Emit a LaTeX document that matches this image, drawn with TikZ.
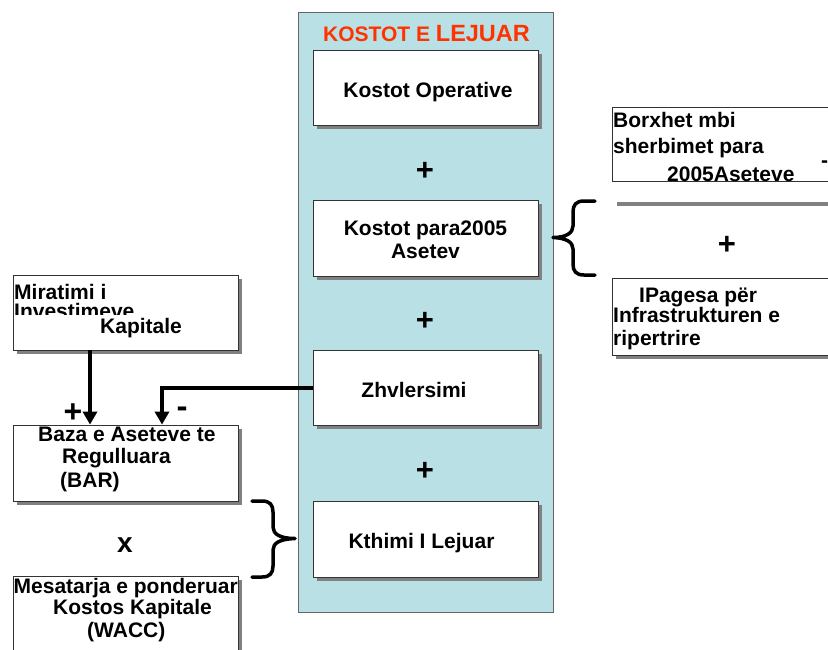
\documentclass[tikz,border=0pt]{standalone}
\usepackage{fontspec}
\setmainfont{Liberation Sans}
\usetikzlibrary{arrows.meta,shadows}
\definecolor{panelfill}{RGB}{185,224,228}
\definecolor{titlered}{RGB}{255,51,0}
\definecolor{shade}{RGB}{128,128,128}
\begin{document}
\begin{tikzpicture}[x=1pt,y=-1pt,
  box/.style={draw=black!80, line width=0.8pt, fill=white, inner sep=0pt},
  sbox/.style={box, drop shadow={shadow xshift=4pt, shadow yshift=-4pt, fill=shade, opacity=1}},
  tl/.style={inner sep=0pt, anchor=base west, font=\bfseries\fontsize{21}{24}\selectfont},
  tc/.style={tl, anchor=base},
  sym/.style={inner sep=0pt, anchor=base, font=\bfseries\fontsize{31}{34}\selectfont},
  arr/.style={line width=4pt, -{Triangle[width=14pt,length=13pt]}},
  bracestyle/.style={line width=3.5pt, line cap=round, line join=round}]
\useasboundingbox (0,0) rectangle (828,649);

% central panel
\node[draw=black!60, line width=0.8pt, fill=panelfill, minimum width=255, minimum height=600, inner sep=0pt] (panel) at (425.5,312) {};
\node[inner sep=0pt, anchor=base, text=titlered, font=\bfseries] (title) at (426.5,41)
  {\fontsize{21}{24}\selectfont KOSTOT E \fontsize{23.5}{26}\selectfont LEJUAR};

% boxes in panel
\node[sbox, minimum width=225, minimum height=75] (op) at (425.5,87.5) {};
\node[sbox, minimum width=225, minimum height=76] (para) at (425.5,238) {};
\node[sbox, minimum width=225, minimum height=75] (zhv) at (425.5,387.5) {};
\node[sbox, minimum width=225, minimum height=76] (kth) at (425.5,539) {};

\node[tc] (opT) at (428,97) {Kostot Operative};
\node[tc] (paraT1) at (425.5,235) {Kostot para2005};
\node[tc] (paraT2) at (425.5,258) {Asetev};
\node[tc] (zhvT) at (414,397) {Zhvlersimi};
\node[tc] (kthT) at (421.5,548) {Kthimi I Lejuar};

\node[sym] (p1) at (425,180.5) {+};
\node[sym] (p2) at (425,330.5) {+};
\node[sym] (p3) at (425,480.5) {+};

% left boxes
\node[sbox, minimum width=225, minimum height=75] (mir) at (125.5,312.5) {};
\node[sbox, minimum width=225, minimum height=76] (baza) at (125.5,463) {};
\node[sbox, minimum width=225, minimum height=104] (mes) at (125.5,628) {};

\node[tl] (mirT1) at (14,299) {Miratimi i};
\begin{scope}
  \clip (13,275) rectangle (238,314.5);
  \node[tl] (mirT2) at (14,318) {Investimeve};
\end{scope}
\node[tl] (mirT3) at (100,333) {Kapitale};

\node[tl] (bazaT1) at (38,441) {Baza e Aseteve te};
\node[tl] (bazaT2) at (62,463) {Regulluara};
\node[tl] (bazaT3) at (60,487) {(BAR)};

\node[tl] (mesT1) at (13.5,593) {Mesatarja e ponderuar};
\node[tl] (mesT2) at (53,614) {Kostos Kapitale};
\node[tl] (mesT3) at (87,637) {(WACC)};

\node[inner sep=0pt, anchor=base, font=\bfseries\fontsize{28}{30}\selectfont] (times) at (125,552) {x};

% arrows
\coordinate (c1) at (90,0);
\coordinate (c2) at (162,0);
\draw[arr] (mir.south -| c1) -- (baza.north -| c1);
\draw[arr] (zhv.west) -| (baza.north -| c2);
\node[inner sep=0pt, anchor=base, font=\bfseries\fontsize{32}{34}\selectfont] (plusA) at (73,422) {+};
\node[inner sep=0pt, anchor=base, font=\bfseries\fontsize{33}{35}\selectfont] (minusA) at (182,417) {-};

% right boxes
\node[box, minimum width=228, minimum height=74] (borx) at (726,144) {};
\node[tl] (borxT1) at (613,127) {Borxhet mbi};
\node[tl] (borxT2) at (613,153) {sherbimet para};
\node[tl] (borxT3) at (667,181) {2005Aseteve};
\node[tl] (borxM) at (821,167) {-};
\draw[draw=shade, line width=4pt] (617,203.5) -- (830,203.5);
\node[sym] (p4) at (727,254) {+};
\node[sbox, minimum width=228, minimum height=77] (ipag) at (726,316.5) {};
\node[tl] (ipagT1) at (639,302) {IPagesa për};
\node[tl] (ipagT2) at (613,322) {Infrastrukturen e};
\node[tl] (ipagT3) at (613,345) {ripertrire};

% braces
\draw[bracestyle] (595,201) -- (584,201) .. controls (576,201) and (573,205) .. (573,212)
  -- (573,226) .. controls (573,233) and (566,237.5) .. (553,237.5)
  .. controls (566,238) and (573,242) .. (573,249)
  -- (573,264) .. controls (573,271) and (576,275) .. (584,275) -- (595,275);
\draw[bracestyle] (252,501) -- (262,501) .. controls (270,501) and (273,505) .. (273,512)
  -- (273,527) .. controls (273,534) and (280,538.5) .. (295,538.5)
  .. controls (280,539) and (273,543) .. (273,550)
  -- (273,566) .. controls (273,573) and (270,577) .. (262,577) -- (252,577);
\end{tikzpicture}
\end{document}
